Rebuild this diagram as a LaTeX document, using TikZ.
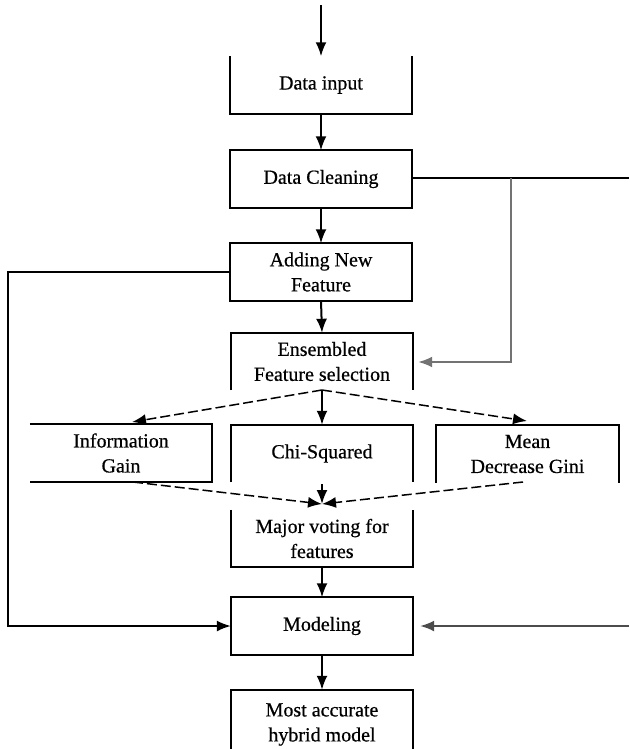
\documentclass[tikz,border=0pt]{standalone}
\usepackage{fontspec}
\setmainfont{Liberation Serif}
\newfontfamily\boxfont[FakeBold=0.6]{Liberation Serif}
\usetikzlibrary{arrows.meta}
\definecolor{linegray}{rgb}{0.45,0.45,0.45}
\definecolor{darkline}{rgb}{0.3,0.3,0.3}
\begin{document}
\begin{tikzpicture}[x=1pt,y=-1pt,
  box/.style={minimum width=182pt,minimum height=57pt,inner sep=0pt,align=center,font=\boxfont\fontsize{20}{25}\selectfont},
  frame/.style={line width=2.2pt},
  tip/.style={-{Latex[length=14pt,width=11pt]}},
  conn/.style={line width=2pt,tip},
  dconn/.style={line width=1.5pt,tip,dash pattern=on 10pt off 4pt},
  gline/.style={line width=2pt,draw=linegray},
]
\useasboundingbox (0,0) rectangle (629,749);

% nodes
\node[box] (din) at (321,85) {Data input};
\node[box] (dcl) at (321,179) {Data Cleaning};
\node[box] (anf) at (321,272) {Adding New\\Feature};
\node[box] (ens) at (322,361.5) {Ensembled\\Feature selection};
\node[box] (ig)  at (121,453) {Information\\Gain};
\node[box] (chi) at (322,453.5) {Chi-Squared};
\node[box,minimum width=183pt] (mdg) at (527.5,454) {Mean\\Decrease Gini};
\node[box] (mv)  at (322,538.5) {Major voting for\\features};
\node[box] (mod) at (322,626) {Modeling};
\node[box,minimum height=69pt] (mac) at (322,724.5) {Most accurate\\hybrid model};

% frames
\draw[frame] (din.north west) -- (din.south west) -- (din.south east) -- (din.north east);
\draw[frame] (dcl.south west) rectangle (dcl.north east);
\draw[frame] (anf.south west) rectangle (anf.north east);
\draw[frame] (ens.south west) -- (ens.north west) -- (ens.north east) -- (ens.south east);
\draw[frame] (ig.north west) -- (ig.north east) -- (ig.south east) -- (ig.south west);
\draw[frame] (chi.south west) -- (chi.north west) -- (chi.north east) -- (chi.south east);
\draw[frame] (mdg.south west) -- (mdg.north west) -- (mdg.north east) -- (mdg.south east);
\draw[frame] (mv.north west) -- (mv.south west) -- (mv.south east) -- (mv.north east);
\draw[frame] (mod.south west) rectangle (mod.north east);
\draw[frame] (mac.south west) -- (mac.north west) -- (mac.north east) -- (mac.south east);

% coordinates
\coordinate (start) at (321,5);
\coordinate (dcr) at (629,178);
\coordinate (gtop) at (511,178);
\coordinate (gbend) at (511,362);
\coordinate (lbend1) at (8,272);
\coordinate (lbend2) at (8,626);
\coordinate (rin) at (629,626);
\coordinate (split) at (322,390);
\coordinate (igtip) at (132,422);
\coordinate (mdgtip) at (527,421);
\coordinate (igout) at (133,482);
\coordinate (chiout) at (322,484);
\coordinate (mdgout) at (523,482);
\coordinate (meet) at (322,504);

% vertical flow
\draw[conn] (start) -- (din.north);
\draw[conn] (din.south) -- (dcl.north);
\draw[conn] (dcl.south) -- (anf.north);
\draw[conn] (anf.south) -- (ens.north);
\draw[conn] (mv.south) -- (mod.north);
\draw[conn] (mod.south) -- (mac.north);

% branches
\draw[dconn] (split) -- (igtip);
\draw[conn] (split) -- (chi.north);
\draw[dconn] (split) -- (mdgtip);
\draw[dconn] (igout) -- (meet);
\draw[conn] (chiout) -- (meet);
\draw[dconn] (mdgout) -- (meet);

% side lines
\draw[line width=1.8pt] (dcl.east |- dcr) -- (dcr);
\draw[gline,tip,shorten >=5pt] (gtop) -- (gbend) -- (ens.east |- gbend);
\draw[line width=1.8pt,tip] (anf.west) -- (lbend1) -- (lbend2) -- (mod.west);
\draw[line width=1.8pt,draw=darkline,tip,shorten >=7pt] (rin) -- (mod.east);
\end{tikzpicture}
\end{document}
